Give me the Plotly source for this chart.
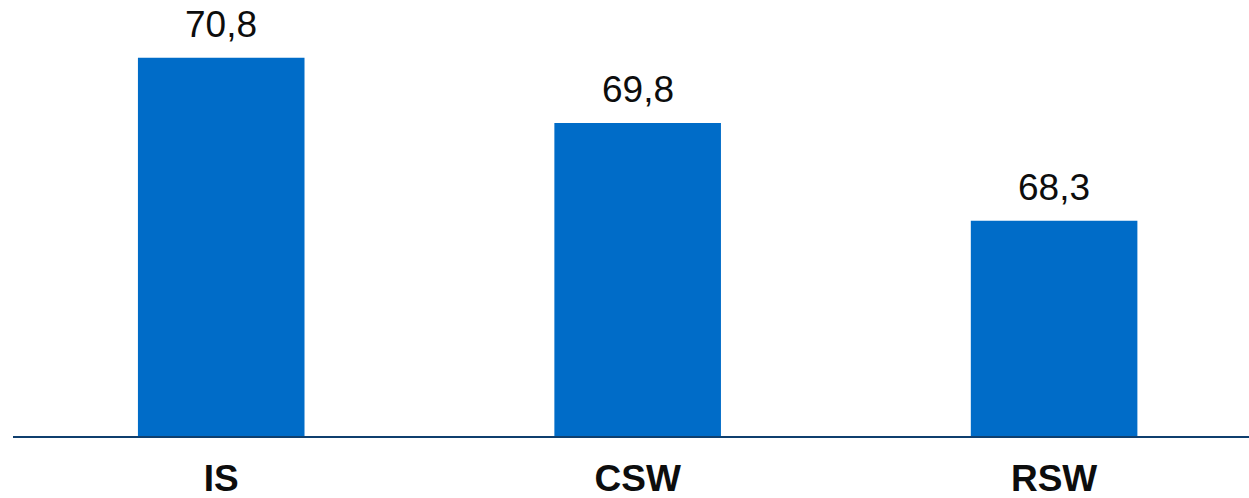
import plotly.graph_objects as go

categories = ["IS", "CSW", "RSW"]
values = [70.8, 69.8, 68.3]
value_labels = ["70,8", "69,8", "68,3"]

FONT = "Liberation Sans, Arial, sans-serif"

fig = go.Figure()
fig.add_trace(go.Bar(
    x=categories,
    y=values,
    width=0.4,
    marker=dict(color="#006CC8", line=dict(width=0)),
    hoverinfo="skip",
))

for c, v, t in zip(categories, values, value_labels):
    fig.add_annotation(
        x=c, y=v, text=t, showarrow=False,
        yanchor="bottom", yshift=11,
        font=dict(family=FONT, size=37, color="#0D0D0D"),
    )

fig.update_layout(
    width=1249,
    height=498,
    margin=dict(l=13, r=0, t=0, b=62, autoexpand=False),
    paper_bgcolor="white",
    plot_bgcolor="white",
    showlegend=False,
    xaxis=dict(
        type="category",
        range=[-0.5, 2.468],
        showline=True,
        linecolor="#0F3F6E",
        linewidth=2,
        showgrid=False,
        ticks="",
        ticklabelstandoff=9,
        tickfont=dict(family=FONT, size=37, color="#0D0D0D", weight="bold"),
        fixedrange=True,
    ),
    yaxis=dict(
        range=[65, 71.687],
        visible=False,
        showgrid=False,
        zeroline=False,
        fixedrange=True,
    ),
)

inner = fig.to_html(full_html=False, include_plotlyjs=True, config={"displayModeBar": False})
page = (
    "<!DOCTYPE html><html><head><meta charset='utf-8'>"
    "<style>html,body{margin:0;padding:0;overflow:hidden;background:white;}</style>"
    "</head><body>" + inner + "</body></html>"
)
with open("out.html", "w", encoding="utf-8") as f:
    f.write(page)
